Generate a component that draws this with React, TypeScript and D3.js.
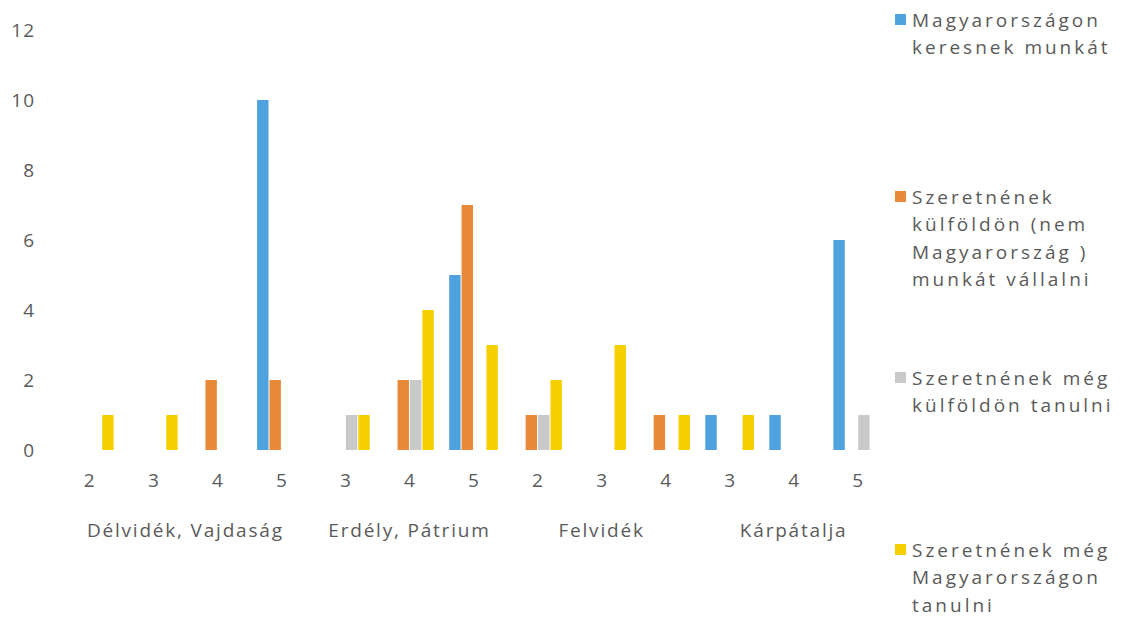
import { useEffect, useRef } from 'react'
import * as d3 from 'd3'

const groups = ['Délvidék, Vajdaság', 'Erdély, Pátrium', 'Felvidék', 'Kárpátalja']
const groupCats = [['2', '3', '4', '5'], ['3', '4', '5'], ['2', '3', '4'], ['3', '4', '5']]

const seriesNames = [
  ['Magyarországon', 'keresnek munkát'],
  ['Szeretnének', 'külföldön (nem', 'Magyarország )', 'munkát vállalni'],
  ['Szeretnének még', 'külföldön tanulni'],
  ['Szeretnének még', 'Magyarországon', 'tanulni'],
]
const colors = ['#4ea3de', '#e8893a', '#c9c9c9', '#f5cf00']

// one value per category, in order of the 13 categories
const blue = [0, 0, 0, 10, 0, 0, 5, 0, 0, 0, 1, 1, 6]
const orange = [0, 0, 2, 2, 0, 2, 7, 1, 0, 1, 0, 0, 0]
const gray = [0, 0, 0, 0, 1, 2, 0, 1, 0, 0, 0, 0, 1]
const yellow = [1, 1, 0, 0, 1, 4, 3, 2, 3, 1, 1, 0, 0]
const yTicks = [0, 2, 4, 6, 8, 10, 12]

export default function App() {
  const svgRef = useRef<SVGSVGElement>(null)

  useEffect(() => {
    const svg = d3.select(svgRef.current)
    svg.selectAll('*').remove()
    const font = "'Open Sans', sans-serif"
    const textColor = '#5a5a5a'

    const cats: { key: string; label: string; group: number }[] = []
    groupCats.forEach((cs, gi) => cs.forEach((c, ci) => cats.push({ key: `${gi}-${ci}`, label: c, group: gi })))
    const series = [blue, orange, gray, yellow]

    const x = d3.scaleBand().domain(cats.map(c => c.key)).range([56, 891]).paddingInner(0.24).paddingOuter(0.14)
    const xs = d3.scaleBand().domain(['0', '1', '2', '3']).range([0, x.bandwidth()]).paddingInner(0.08)
    const y = d3.scaleLinear().domain([0, 12]).range([450, 30])

    // y labels
    svg.append('g').selectAll('text').data(yTicks).join('text')
      .attr('x', 35).attr('y', d => y(d)).attr('dy', '0.35em')
      .attr('text-anchor', 'end').attr('font-family', font).attr('font-size', 19)
      .attr('letter-spacing', 1).attr('fill', textColor).text(d => d)

    // bars
    series.forEach((vals, si) => {
      svg.append('g').selectAll('rect').data(cats.map((c, i) => ({ c, v: vals[i] })).filter(d => d.v > 0))
        .join('rect')
        .attr('x', d => (x(d.c.key) ?? 0) + (xs(String(si)) ?? 0))
        .attr('width', xs.bandwidth())
        .attr('y', d => y(d.v)).attr('height', d => y(0) - y(d.v))
        .attr('fill', colors[si])
    })

    // category labels
    svg.append('g').selectAll('text').data(cats).join('text')
      .attr('x', d => (x(d.key) ?? 0) + x.bandwidth() / 2).attr('y', 487)
      .attr('text-anchor', 'middle').attr('font-family', font).attr('font-size', 19)
      .attr('fill', textColor).text(d => d.label)

    // group labels, centred on the middle of each group
    svg.append('g').selectAll('text').data(groups).join('text')
      .attr('x', (_, gi) => {
        const inGroup = cats.filter(c => c.group === gi)
        const first = x(inGroup[0].key) ?? 0
        const last = (x(inGroup[inGroup.length - 1].key) ?? 0) + x.bandwidth()
        return (first + last) / 2
      })
      .attr('y', 537).attr('text-anchor', 'middle').attr('font-family', font).attr('font-size', 19)
      .attr('letter-spacing', 1.8).attr('fill', textColor).text(d => d)

    // legend
    const legendY = [20, 197, 378, 550]
    const lg = svg.append('g')
    seriesNames.forEach((lines, si) => {
      lg.append('rect').attr('x', 895).attr('y', legendY[si] - 6).attr('width', 11).attr('height', 11)
        .attr('fill', colors[si])
      lg.append('text').attr('font-family', font).attr('font-size', 19).attr('fill', textColor)
        .attr('letter-spacing', 3)
        .selectAll('tspan').data(lines).join('tspan')
        .attr('x', 912).attr('y', (_, li) => legendY[si] + li * 27.5).attr('dy', '0.35em')
        .text(d => d)
    })
  }, [])

  return (
    <svg ref={svgRef} width={1123} height={617}
      style={{ position: 'absolute', left: 0, top: 0, background: '#fff' }} />
  )
}
